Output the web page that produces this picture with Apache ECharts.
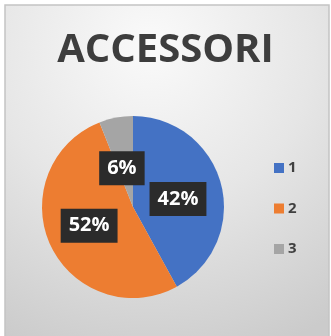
<!DOCTYPE html>
<html>
<head>
<meta charset="utf-8">
<script src="https://cdn.jsdelivr.net/npm/echarts@6/dist/echarts.min.js"></script>
<style>
  html, body { margin: 0; padding: 0; background: #ffffff; }
  #chart { width: 331px; height: 336px; }
</style>
</head>
<body>
<div id="chart"></div>
<script>
// Share of accessories by group
const categories = ['1', '2', '3'];
const shares = [42, 52, 6];
const colors = ['#4472c4', '#ed7d31', '#a5a5a5'];
// Nudges for the value boxes so they sit clear of the slice edges
const labelOffsets = [[-2, 4], [0, -2], [-2, 9]];

const chart = echarts.init(document.getElementById('chart'));

chart.setOption({
  animation: false,
  graphic: [{
    type: 'rect',
    z: -10,
    shape: { x: 5, y: 5, width: 324, height: 340 },
    style: {
      fill: {
        type: 'radial', x: 0.45, y: 0.12, r: 1.0,
        colorStops: [
          { offset: 0, color: '#fafafa' },
          { offset: 0.5, color: '#e6e6e6' },
          { offset: 1, color: '#cbcbcb' }
        ]
      },
      stroke: '#c4c4c4',
      lineWidth: 1.5
    }
  }],
  title: {
    text: 'ACCESSORI',
    left: 'center',
    top: 26,
    textStyle: {
      fontFamily: 'Open Sans',
      fontWeight: 'bold',
      fontSize: 40,
      color: '#3d3d3d'
    }
  },
  legend: {
    orient: 'vertical',
    left: 269,
    top: 155,
    itemWidth: 10,
    itemHeight: 10,
    itemGap: 24.5,
    icon: 'rect',
    data: categories,
    textStyle: {
      fontFamily: 'Open Sans',
      fontWeight: 'bold',
      fontSize: 15,
      lineHeight: 16,
      color: '#404040',
      padding: [0, 0, 0, -1]
    }
  },
  series: [{
    type: 'pie',
    center: [133, 207],
    radius: 91,
    startAngle: 90,
    clockwise: true,
    avoidLabelOverlap: false,
    data: categories.map((c, i) => ({
      name: c,
      value: shares[i],
      itemStyle: { color: colors[i] },
      label: { offset: labelOffsets[i] }
    })),
    label: {
      position: 'inside',
      formatter: p => p.value + '%',
      color: '#ffffff',
      fontFamily: 'Open Sans',
      fontWeight: 'bold',
      fontSize: 20,
      backgroundColor: '#2b2b2b',
      padding: [7, 8]
    },
    labelLine: { show: false },
    emphasis: { disabled: true }
  }]
});
</script>
</body>
</html>
